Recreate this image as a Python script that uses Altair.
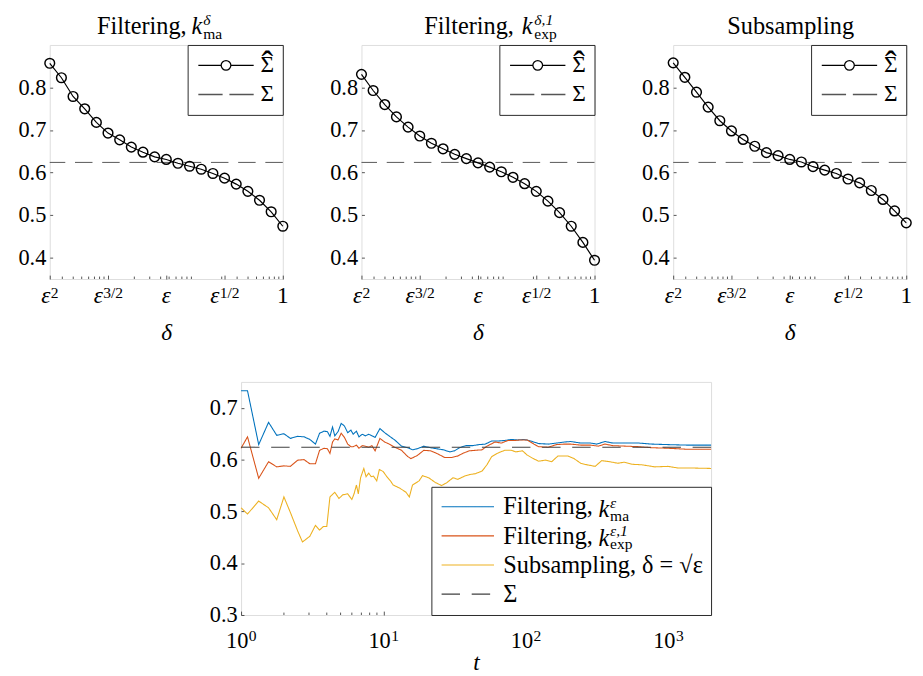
import altair as alt
import pandas as pd

FONT = "Liberation Serif"
INK = "#262626"

# ---------------- top panels: estimates vs delta ----------------
EPS = 10 ** (-4.0 / 3.0)
DELTA_POW = [2.0, 1.9, 1.8, 1.7, 1.6, 1.5, 1.4, 1.3, 1.2, 1.1, 1.0,
             0.9, 0.8, 0.7, 0.6, 0.5, 0.4, 0.3, 0.2, 0.1, 0.0]
DELTA = [EPS ** p for p in DELTA_POW]
SIG_MA = [0.857, 0.823, 0.779, 0.750, 0.718, 0.693, 0.677, 0.660, 0.648, 0.637, 0.631,
          0.622, 0.615, 0.608, 0.598, 0.587, 0.573, 0.556, 0.535, 0.508, 0.474]
SIG_EXP = [0.831, 0.793, 0.760, 0.731, 0.707, 0.686, 0.669, 0.656, 0.643, 0.633, 0.623,
           0.613, 0.602, 0.589, 0.574, 0.556, 0.533, 0.506, 0.474, 0.436, 0.394]
SIG_SUB = [0.858, 0.824, 0.789, 0.754, 0.722, 0.698, 0.678, 0.662, 0.647, 0.640, 0.631,
           0.625, 0.614, 0.606, 0.598, 0.585, 0.576, 0.558, 0.537, 0.510, 0.482]
SIGMA = 0.624

TOP_MAJOR_POW = [2.0, 1.5, 1.0, 0.5, 0.0]
TOP_MAJOR = [EPS ** p for p in TOP_MAJOR_POW]
TOP_BASE = ["ε", "ε", "ε", "ε", "1"]
TOP_SUP = ["2", "3/2", "", "1/2", ""]
TOP_MINOR = [0.003, 0.004, 0.005, 0.006, 0.007, 0.008, 0.009,
             0.02, 0.03, 0.04, 0.05, 0.06, 0.07, 0.08, 0.09,
             0.2, 0.3, 0.4, 0.5, 0.6, 0.7, 0.8, 0.9]
TOP_YTICKS = [0.4, 0.5, 0.6, 0.7, 0.8]
TOP_LEGEND = ["Σhat", "Σ"]
HAT = "ˆ"

TITLE_MAIN = ["Filtering,", "Filtering,", "Subsampling"]
TITLE_K = ["k", "k", ""]
TITLE_SUP = ["δ", "δ,1", ""]
TITLE_SUB = ["ma", "exp", ""]

# ---------------- bottom panel: running estimates vs t ----------------
T_MA = [1, 1.11, 1.33, 1.56, 1.78, 2.0, 2.22, 2.5, 2.77, 3.04,
        3.33, 3.56, 3.83, 4.04, 4.21, 4.39, 4.55, 4.8, 5.05, 5.32,
        5.61, 5.91, 6.13, 6.46, 6.73, 7.1, 7.47, 7.88, 8.3, 8.74,
        9.45, 10.2, 10.8, 12.0, 13.4, 14.8, 16.0, 17.3, 19.2, 21.4,
        23.7, 26.3, 29.2, 31.6, 34.2, 37.9, 42.1, 46.8, 51.9, 57.6,
        64.0, 71.1, 78.9, 87.6, 97.3, 108, 123, 144, 164, 187,
        207, 243, 284, 315, 359, 409, 504, 621, 766, 995,
        1362, 2000]
V_MA = [0.733, 0.733, 0.629, 0.672, 0.647, 0.650, 0.641, 0.645, 0.644, 0.639,
        0.630, 0.651, 0.655, 0.654, 0.645, 0.663, 0.646, 0.654, 0.670, 0.665,
        0.652, 0.657, 0.649, 0.655, 0.644, 0.649, 0.646, 0.649, 0.646, 0.643,
        0.660, 0.652, 0.647, 0.638, 0.626, 0.623, 0.619, 0.621, 0.626, 0.623,
        0.621, 0.619, 0.615, 0.617, 0.623, 0.627, 0.627, 0.629, 0.630, 0.636,
        0.636, 0.637, 0.639, 0.638, 0.639, 0.636, 0.631, 0.630, 0.632, 0.634,
        0.635, 0.632, 0.632, 0.630, 0.635, 0.632, 0.632, 0.632, 0.630, 0.629,
        0.628, 0.628]
T_EXP = [1, 1.11, 1.33, 1.56, 1.78, 2.0, 2.22, 2.5, 2.77, 3.04,
         3.33, 3.56, 3.83, 4.04, 4.21, 4.39, 4.55, 4.8, 5.05, 5.32,
         5.61, 5.91, 6.13, 6.46, 6.73, 7.1, 7.47, 7.88, 8.3, 8.74,
         9.45, 10.2, 10.8, 12.0, 13.4, 14.8, 15.6, 17.3, 19.2, 21.4,
         23.7, 27.0, 30.0, 33.3, 36.0, 40.0, 44.4, 49.3, 53.3, 60.8,
         67.4, 74.9, 83.1, 92.3, 102, 114, 123, 144, 164, 187,
         207, 243, 284, 323, 359, 409, 504, 621, 766, 995,
         1362, 2000]
V_EXP = [0.622, 0.644, 0.564, 0.596, 0.586, 0.588, 0.587, 0.599, 0.600, 0.592,
         0.592, 0.618, 0.622, 0.621, 0.612, 0.634, 0.640, 0.638, 0.651, 0.643,
         0.630, 0.625, 0.625, 0.628, 0.622, 0.627, 0.626, 0.624, 0.627, 0.617,
         0.641, 0.634, 0.631, 0.624, 0.618, 0.606, 0.602, 0.608, 0.618, 0.617,
         0.612, 0.604, 0.604, 0.607, 0.612, 0.617, 0.618, 0.619, 0.626, 0.634,
         0.632, 0.637, 0.637, 0.638, 0.638, 0.630, 0.625, 0.624, 0.629, 0.630,
         0.630, 0.628, 0.628, 0.626, 0.630, 0.627, 0.626, 0.625, 0.623, 0.622,
         0.620, 0.620]
T_SUB = [1, 1.11, 1.33, 1.56, 1.78, 2.0, 2.22, 2.5, 2.7, 3.04,
         3.33, 3.56, 3.79, 4.0, 4.21, 4.55, 4.87, 5.18, 5.61, 6.0,
         6.22, 6.46, 6.66, 6.91, 7.28, 7.55, 7.88, 8.21, 8.52, 8.97,
         9.36, 9.96, 10.5, 11.2, 11.7, 13.0, 14.4, 15.2, 16.0, 17.8,
         18.8, 20.8, 23.1, 25.6, 27.7, 30.8, 33.3, 37.0, 40.0, 44.4,
         49.3, 53.3, 57.6, 64.0, 71.1, 78.9, 85.3, 94.8, 102, 111,
         123, 137, 152, 168, 197, 218, 243, 269, 307, 341,
         388, 442, 491, 560, 654, 807, 995, 1164, 1362, 2000]
V_SUB = [0.507, 0.495, 0.520, 0.507, 0.484, 0.528, 0.498, 0.462, 0.441, 0.452,
         0.473, 0.464, 0.471, 0.471, 0.528, 0.537, 0.525, 0.532, 0.534, 0.523,
         0.534, 0.551, 0.534, 0.565, 0.583, 0.567, 0.574, 0.567, 0.568, 0.559,
         0.581, 0.577, 0.568, 0.559, 0.551, 0.545, 0.537, 0.528, 0.551, 0.559,
         0.569, 0.565, 0.556, 0.550, 0.555, 0.565, 0.562, 0.568, 0.571, 0.573,
         0.578, 0.590, 0.606, 0.613, 0.618, 0.618, 0.615, 0.617, 0.609, 0.603,
         0.597, 0.599, 0.596, 0.607, 0.607, 0.602, 0.593, 0.590, 0.587, 0.598,
         0.596, 0.593, 0.595, 0.591, 0.590, 0.586, 0.587, 0.584, 0.584, 0.583]
T_RANGE = [1, 2000]
SERIES = ["ma", "exp", "sub", "Σ"]
SERIES_COLORS = ["#0072BD", "#D95319", "#EDB120", "#404040"]
BOT_MAJOR = [1, 10, 100, 1000]
BOT_BASE = ["10", "10", "10", "10"]
BOT_SUP = ["0", "1", "2", "3"]
BOT_MINOR = [2, 3, 4, 5, 6, 7, 8, 9]
BOT_YTICKS = [0.3, 0.4, 0.5, 0.6, 0.7]
LEG_K = ["k", "k"]
LEG_SUP = ["ε", "ε,1"]
LEG_SUB = ["ma", "exp"]

# ---------------- styling constants ----------------
TOP_W, TOP_H = 240, 241
BOT_W, BOT_H = 484, 240
FS = 24
LEG_FS = 25
TICK_FS = 23
SUP_FS = 16
BASE_DX = [-4, -10, 0, -10, 0]
SUP_DX = [1, -5, 0, -5, 0]
# legend symbols: 1 unit = 10 px (symbol size 400); drawn from -1 to +4.7 units
PATH_HAT = "M-1,0H1.35A0.5,0.5 0 1,1 2.35,0A0.5,0.5 0 1,1 1.35,0M2.35,0H4.7"
PATH_DASH = "M-1,0H1.5M2.2,0H4.7"
PATH_LINE = "M-1,0H4.4"
IND = dict(color="independent", shape="independent", strokeDash="independent")


def y_axis(vals):
    return alt.Axis(values=vals, format=".1f", domain=False, grid=False, tickSize=3,
                    offset=-3, labelPadding=4, title=None, labelFontSize=TICK_FS,
                    labelFont=FONT, labelColor="black", tickColor=INK, tickWidth=0.8)


def text_layer(txt, x, y, size, align="left", style="normal"):
    return alt.Chart(pd.DataFrame({"s": [txt]})).mark_text(
        font=FONT, fontSize=size, align=align, baseline="alphabetic",
        fontStyle=style, color="black").encode(
        text="s:N", x=alt.value(x), y=alt.value(y))


def tick_label(value, txt, scale, axis, y, size, dx, align="center", style="normal"):
    return alt.Chart(pd.DataFrame({"tick": [value], "s": [txt]})).mark_text(
        font=FONT, fontSize=size, align=align, baseline="alphabetic", dx=dx,
        fontStyle=style, color="black").encode(
        x=alt.X("tick:Q", scale=scale, axis=axis), y=alt.value(y), text="s:N")


def minor_ticks(values, scale, axis, h):
    return alt.Chart(pd.DataFrame({"tick": values})).mark_rule(
        color=INK, strokeWidth=0.8).encode(
        x=alt.X("tick:Q", scale=scale, axis=axis), y=alt.value(h - 2.5), y2=alt.value(h))


TITLE_POS = [(141, 146, 158), (157, 165, 178), (121, 0, 0)]


def top_panel(i, vals):
    xs = alt.Scale(type="log", domain=[DELTA[0], 1.0], nice=False)
    ys = alt.Scale(domain=[0.35, 0.9], nice=False)
    yax = y_axis(TOP_YTICKS)
    xax = alt.Axis(values=TOP_MAJOR, labels=False, domain=False, grid=False, tickSize=4,
                   offset=-4, tickColor=INK, tickWidth=0.8,
                   title="δ", titleFont=FONT, titleFontSize=FS, titleFontStyle="italic",
                   titleFontWeight="normal", titleColor="black", titlePadding=43)

    df = pd.DataFrame({"delta": DELTA, "value": vals})
    # legend carrier: its points lie outside the y domain and are clipped away
    leg_df = pd.DataFrame({"series": TOP_LEGEND, "delta": [0.1, 0.1], "value": [5.0, 5.0]})
    leg = alt.Legend(title=None, orient="top-right", offset=0, padding=9, rowPadding=6,
                     strokeColor=INK, symbolSize=400, symbolStrokeWidth=1.3, symbolOpacity=1,
                     labelFont=FONT, labelFontSize=FS, labelColor="black", labelOffset=42,
                     labelExpr="'Σ'")
    legend_layer = alt.Chart(leg_df).mark_point(clip=True, filled=False, strokeWidth=1.3,
                                                opacity=1).encode(
        x=alt.X("delta:Q", scale=xs, axis=xax),
        y=alt.Y("value:Q", scale=ys, axis=yax),
        shape=alt.Shape("series:N", scale=alt.Scale(domain=TOP_LEGEND, range=[PATH_HAT, PATH_DASH]),
                        legend=leg),
        color=alt.Color("series:N", scale=alt.Scale(domain=TOP_LEGEND, range=["black", "#555555"]),
                        legend=leg),
    )
    line = alt.Chart(df).mark_line(color="black", strokeWidth=1.2).encode(
        x=alt.X("delta:Q", scale=xs, axis=xax),
        y=alt.Y("value:Q", scale=ys, axis=yax))
    pts = alt.Chart(df).mark_point(shape="circle", filled=False, size=100, strokeWidth=1.5,
                                   color="black", opacity=1).encode(
        x=alt.X("delta:Q", scale=xs, axis=xax),
        y=alt.Y("value:Q", scale=ys, axis=yax))
    rule = alt.Chart(pd.DataFrame({"value": [SIGMA]})).mark_rule(
        color="#555555", strokeDash=[18, 10], strokeWidth=1).encode(
        y=alt.Y("value:Q", scale=ys, axis=yax))

    layers = [legend_layer, rule, line, pts, minor_ticks(TOP_MINOR, xs, xax, TOP_H)]
    for k in range(len(TOP_MAJOR)):
        layers.append(tick_label(TOP_MAJOR[k], TOP_BASE[k], xs, xax, TOP_H + 25, FS, BASE_DX[k],
                                 style="italic" if TOP_BASE[k] == "ε" else "normal"))
        if TOP_SUP[k]:
            layers.append(tick_label(TOP_MAJOR[k], TOP_SUP[k], xs, xax, TOP_H + 20, SUP_FS,
                                     SUP_DX[k], align="left"))
    layers.append(text_layer(HAT, 224, 32, 36, align="center"))
    mx, kx, sx = TITLE_POS[i]
    if TITLE_K[i]:
        layers += [text_layer(TITLE_MAIN[i], mx, -11, 25, align="right"),
                   text_layer(TITLE_K[i], kx, -11, 25, style="italic"),
                   text_layer(TITLE_SUP[i], sx, -21, 16, style="italic"),
                   text_layer(TITLE_SUB[i], sx, -6, 16)]
    else:
        layers += [text_layer(TITLE_MAIN[i], mx, -11, 25, align="center")]
    return alt.layer(*layers).properties(width=TOP_W, height=TOP_H)


top_row = alt.hconcat(top_panel(0, SIG_MA), top_panel(1, SIG_EXP), top_panel(2, SIG_SUB),
                      spacing=38).resolve_scale(**IND).resolve_legend(**IND)

# ---------------- bottom chart ----------------
frames = []
for name, ts, vs in [("ma", T_MA, V_MA), ("exp", T_EXP, V_EXP), ("sub", T_SUB, V_SUB),
                     ("Σ", T_RANGE, [SIGMA, SIGMA])]:
    frames.append(pd.DataFrame({"t": ts, "value": vs, "series": name}))
bdf = pd.concat(frames, ignore_index=True)

bxs = alt.Scale(type="log", domain=[1, 2000], nice=False)
bys = alt.Scale(domain=[0.3, 0.75], nice=False)
bleg = alt.Legend(title=None, orient="bottom-right", offset=0, padding=8, rowPadding=4,
                  strokeColor=INK, symbolType=PATH_LINE, symbolSize=400, symbolStrokeWidth=1.2,
                  labelFont=FONT, labelFontSize=LEG_FS, labelColor="black", labelOffset=41,
                  labelLimit=400,
                  labelExpr="datum.label == 'ma' || datum.label == 'exp' ? 'Filtering,' : "
                            "(datum.label == 'sub' ? 'Subsampling, δ = √ε' : 'Σ')")
b_ax = alt.Axis(values=BOT_MAJOR, labels=False,
                tickOpacity={"condition": {"test": "datum.value > 50", "value": 0}, "value": 1},
                domain=False, grid=False, tickSize=4, offset=-4, tickColor=INK, tickWidth=0.8,
                title="t", titleFont=FONT, titleFontSize=FS, titleFontStyle="italic",
                titleFontWeight="normal", titleColor="black", titlePadding=37)

blines = alt.Chart(bdf).mark_line(strokeWidth=1.1).encode(
    x=alt.X("t:Q", scale=bxs, axis=b_ax),
    y=alt.Y("value:Q", scale=bys, axis=y_axis(BOT_YTICKS)),
    color=alt.Color("series:N", scale=alt.Scale(domain=SERIES, range=SERIES_COLORS), legend=bleg),
    strokeDash=alt.StrokeDash("series:N", scale=alt.Scale(
        domain=SERIES, range=[[1, 0], [1, 0], [1, 0], [19, 12]]), legend=bleg),
    order="t:Q",
)
bl = [blines, minor_ticks(BOT_MINOR, bxs, b_ax, BOT_H)]
for k in range(len(BOT_MAJOR)):
    bl.append(tick_label(BOT_MAJOR[k], BOT_BASE[k], bxs, b_ax, BOT_H + 34, TICK_FS, -4))
    bl.append(tick_label(BOT_MAJOR[k], BOT_SUP[k], bxs, b_ax, BOT_H + 27, SUP_FS, 8, align="left"))
# sub/superscripts of the two "Filtering, k" legend entries
KX, SX = 368, 380
for r, c in enumerate([132.5, 161.5]):
    bl += [text_layer(LEG_K[r], KX, c + 7, LEG_FS, style="italic"),
           text_layer(LEG_SUP[r], SX, c - 3, SUP_FS, style="italic"),
           text_layer(LEG_SUB[r], SX, c + 11, SUP_FS)]
bottom = alt.layer(*bl).properties(width=BOT_W, height=BOT_H)

spacer = alt.Chart(pd.DataFrame({"s": [0]})).mark_point(opacity=0).encode(
    x=alt.value(0), y=alt.value(0)).properties(
    width=162, height=1, view=alt.ViewBackground(stroke="transparent"))

bottom_row = alt.hconcat(spacer, bottom, spacing=0).resolve_scale(**IND).resolve_legend(**IND)

chart = alt.vconcat(top_row, bottom_row, spacing=34).resolve_scale(**IND).resolve_legend(
    **IND).properties(
    padding={"left": 9, "top": -7, "right": 0, "bottom": 0}
).configure_view(stroke=INK, strokeWidth=1).configure(background="white")

chart.save("out.html", embed_options={"renderer": "svg", "actions": False})
